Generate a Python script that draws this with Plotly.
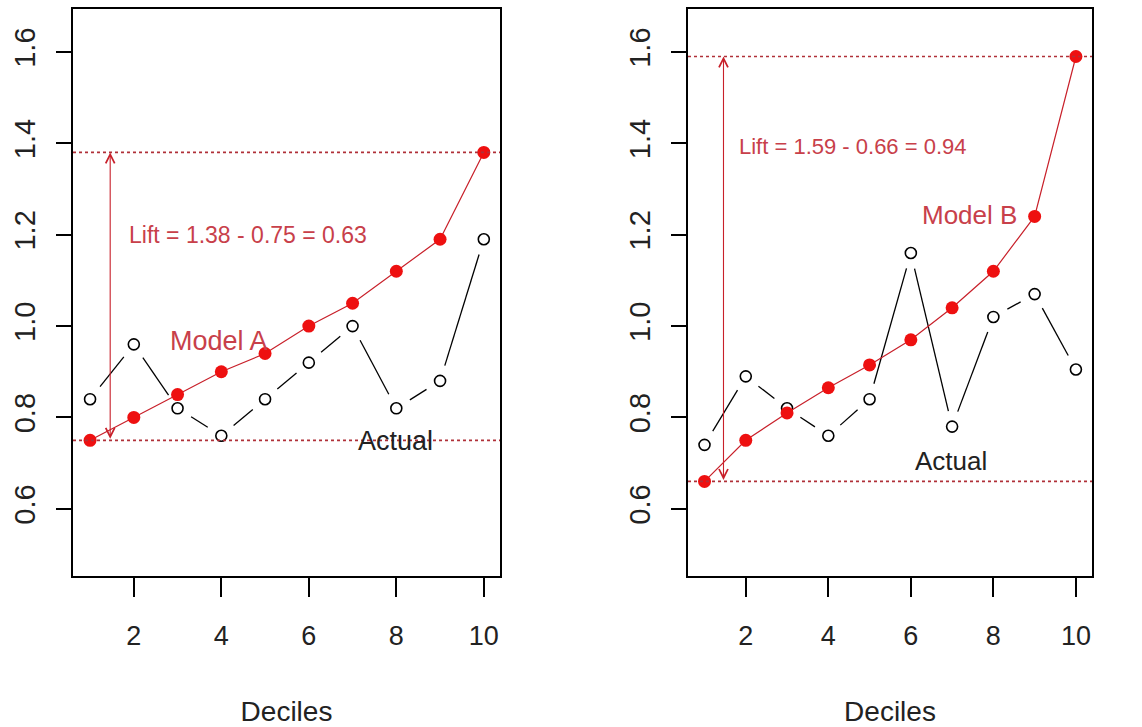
import math
import plotly.graph_objects as go

# ---------------- data ----------------
deciles = [1, 2, 3, 4, 5, 6, 7, 8, 9, 10]
model_a = [0.75, 0.80, 0.85, 0.90, 0.94, 1.00, 1.05, 1.12, 1.19, 1.38]
actual_a = [0.84, 0.96, 0.82, 0.76, 0.84, 0.92, 1.00, 0.82, 0.88, 1.19]
model_b = [0.66, 0.75, 0.81, 0.865, 0.915, 0.97, 1.04, 1.12, 1.24, 1.59]
actual_b = [0.74, 0.89, 0.82, 0.76, 0.84, 1.16, 0.78, 1.02, 1.07, 0.905]
lift_a_text = "Lift = 1.38 - 0.75 = 0.63"
lift_b_text = "Lift = 1.59 - 0.66 = 0.94"
x_ticks = [2, 4, 6, 8, 10]
y_ticks = [0.6, 0.8, 1.0, 1.2, 1.4, 1.6]
y_tick_labels = ["0.6", "0.8", "1.0", "1.2", "1.4", "1.6"]

# ---------------- layout geometry ----------------
W, H = 1142, 727
dom_a = [73 / W, 500 / W]
dom_b = [688 / W, 1092 / W]
dom_y = [1 - 576 / H, 1 - 9 / H]
xr_a = [0.61, 10.37]
xr_b = [0.60, 10.39]
yr = [0.453, 1.694]

RED_PT = "#ee1010"
RED_LN = "#c8202a"
RED_TXT = "#c8404a"
RED_DOT = "#b03038"
FONT = "Liberation Sans, Arial, sans-serif"


def gapped(xs, ys, xdom, xrng, gap=16):
    """Line segments between points with gaps around each point (R type='b')."""
    pxx = (xdom[1] - xdom[0]) * W / (xrng[1] - xrng[0])
    pxy = (dom_y[1] - dom_y[0]) * H / (yr[1] - yr[0])
    ox, oy = [], []
    for i in range(len(xs) - 1):
        dx = (xs[i + 1] - xs[i]) * pxx
        dy = (ys[i + 1] - ys[i]) * pxy
        L = math.hypot(dx, dy)
        if L <= 2 * gap:
            continue
        t = gap / L
        ox += [xs[i] + t * (xs[i + 1] - xs[i]), xs[i + 1] - t * (xs[i + 1] - xs[i]), None]
        oy += [ys[i] + t * (ys[i + 1] - ys[i]), ys[i + 1] - t * (ys[i + 1] - ys[i]), None]
    return ox, oy


fig = go.Figure()

for xa, ya, model, actual, xdom, xrng in [
    ("x", "y", model_a, actual_a, dom_a, xr_a),
    ("x2", "y2", model_b, actual_b, dom_b, xr_b),
]:
    gx, gy = gapped(deciles, actual, xdom, xrng)
    fig.add_trace(go.Scatter(x=gx, y=gy, mode="lines", xaxis=xa, yaxis=ya,
                             line=dict(color="black", width=1.3), showlegend=False,
                             hoverinfo="skip"))
    fig.add_trace(go.Scatter(x=deciles, y=actual, mode="markers", xaxis=xa, yaxis=ya,
                             marker=dict(symbol="circle-open", size=11, color="black",
                                         line=dict(width=1.6, color="black")),
                             showlegend=False, name="Actual"))
    fig.add_trace(go.Scatter(x=deciles, y=model, mode="lines+markers", xaxis=xa, yaxis=ya,
                             line=dict(color=RED_LN, width=1.2),
                             marker=dict(symbol="circle", size=13, color=RED_PT),
                             showlegend=False, name="Model"))

shapes = []
annotations = []
arrow_x = 1.46
for xa, ya, model in [("x", "y", model_a), ("x2", "y2", model_b)]:
    for v in (model[0], model[-1]):
        shapes.append(dict(type="line", xref=xa + " domain", yref=ya, x0=0, x1=1,
                           y0=v, y1=v, line=dict(color=RED_DOT, width=1.7, dash="dot")))
    annotations.append(dict(x=arrow_x, y=model[-1], ax=arrow_x, ay=model[0],
                            xref=xa, yref=ya, axref=xa, ayref=ya, text="",
                            showarrow=True, arrowhead=5, startarrowhead=5,
                            arrowside="end+start", arrowsize=1.6, startarrowsize=1.6,
                            arrowwidth=1.1, arrowcolor=RED_LN, standoff=0, startstandoff=0))

annotations += [
    dict(x=4.6, y=1.2, xref="x", yref="y", text=lift_a_text, showarrow=False,
         font=dict(family=FONT, size=23, color=RED_TXT)),
    dict(x=3.95, y=0.967, xref="x", yref="y", text="Model A", showarrow=False,
         font=dict(family=FONT, size=27, color=RED_TXT)),
    dict(x=7.97, y=0.748, xref="x", yref="y", text="Actual", showarrow=False,
         font=dict(family=FONT, size=27, color="#222222")),
    dict(x=4.6, y=1.392, xref="x2", yref="y2", text=lift_b_text, showarrow=False,
         font=dict(family=FONT, size=22, color=RED_TXT)),
    dict(x=7.41, y=1.244, xref="x2", yref="y2", text="Model B", showarrow=False,
         font=dict(family=FONT, size=26, color=RED_TXT)),
    dict(x=6.97, y=0.704, xref="x2", yref="y2", text="Actual", showarrow=False,
         font=dict(family=FONT, size=26, color="#222222")),
]

axis_common = dict(showline=True, linecolor="black", linewidth=1.5, mirror=True,
                   showgrid=False, zeroline=False, ticks="outside", tickcolor="black",
                   tickwidth=1.5, tickfont=dict(family=FONT, size=27, color="#222222"))

xcommon = dict(axis_common, tickmode="array", tickvals=x_ticks,
               ticktext=[str(t) for t in x_ticks], ticklen=19, ticklabelstandoff=16,
               title=dict(text="Deciles", font=dict(family=FONT, size=28, color="#222222"),
                          standoff=54))
ycommon = dict(axis_common, tickmode="array", tickvals=y_ticks, ticktext=y_tick_labels,
               ticklen=15, tickangle=-90, range=yr, ticklabelstandoff=10,
               tickfont=dict(family=FONT, size=29, color="#222222"))

fig.update_layout(
    width=W, height=H,
    margin=dict(l=0, r=0, t=0, b=0),
    paper_bgcolor="white", plot_bgcolor="white",
    xaxis=dict(xcommon, domain=dom_a, range=xr_a, anchor="y"),
    yaxis=dict(ycommon, domain=dom_y, anchor="x"),
    xaxis2=dict(xcommon, domain=dom_b, range=xr_b, anchor="y2"),
    yaxis2=dict(ycommon, domain=dom_y, anchor="x2"),
    shapes=shapes,
    annotations=annotations,
    showlegend=False,
)

fig.write_html("out.html")
